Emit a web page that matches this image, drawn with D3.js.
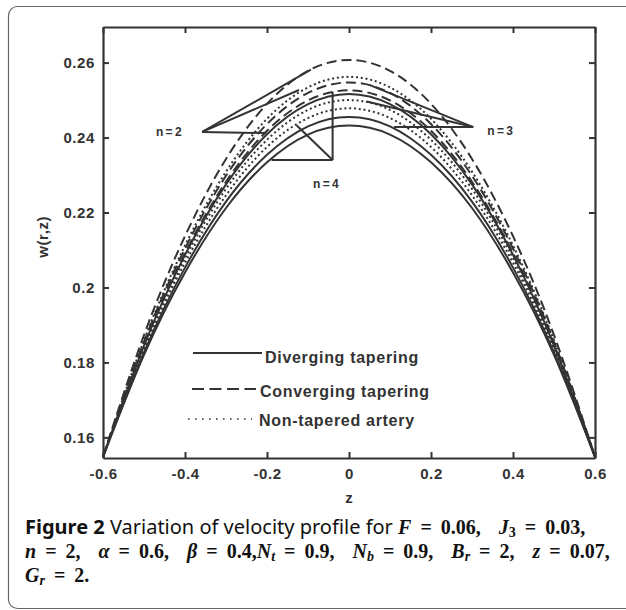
<!DOCTYPE html>
<html>
<head>
<meta charset="utf-8">
<script src="https://cdn.jsdelivr.net/npm/d3@7/dist/d3.min.js"></script>
<style>
  html, body { margin: 0; padding: 0; background: #fff; }
  svg { display: block; }
  .tick text { font-family: "Liberation Sans", Arial, sans-serif; font-weight: bold; font-size: 15px; fill: #333; letter-spacing: 0.6px; }
  .cap { fill: #111; white-space: pre; }
  .sans { font-family: "Noto Sans", "Open Sans", sans-serif; font-size: 20px; }
  .serif { font-family: "Liberation Serif", "DejaVu Serif", serif; font-weight: bold; font-size: 20px; word-spacing: 4px; }
</style>
</head>
<body>
<svg id="chart" width="626" height="610"></svg>
<script>
// axial coordinate samples
const zValues = [-0.6, -0.5, -0.4, -0.3, -0.2, -0.1, 0, 0.1, 0.2, 0.3, 0.4, 0.5, 0.6];

// velocity w(r,z) — diverging tapering
const divergingN2 = [0.1548, 0.1845, 0.2087, 0.2275, 0.2409, 0.2489, 0.2516, 0.2489, 0.2409, 0.2275, 0.2087, 0.1845, 0.1548];
const divergingN3 = [0.1548, 0.1827, 0.2053, 0.2229, 0.2354, 0.2430, 0.2455, 0.2430, 0.2354, 0.2229, 0.2053, 0.1827, 0.1548];
const divergingN4 = [0.1548, 0.1820, 0.2040, 0.2212, 0.2334, 0.2408, 0.2432, 0.2408, 0.2334, 0.2212, 0.2040, 0.1820, 0.1548];
// converging tapering
const convergingN2 = [0.1548, 0.1873, 0.2137, 0.2343, 0.2490, 0.2578, 0.2607, 0.2578, 0.2490, 0.2343, 0.2137, 0.1873, 0.1548];
const convergingN3 = [0.1548, 0.1855, 0.2104, 0.2298, 0.2436, 0.2519, 0.2547, 0.2519, 0.2436, 0.2298, 0.2104, 0.1855, 0.1548];
const convergingN4 = [0.1548, 0.1848, 0.2092, 0.2282, 0.2418, 0.2499, 0.2526, 0.2499, 0.2418, 0.2282, 0.2092, 0.1848, 0.1548];
// non-tapered artery
const nonTaperedN2 = [0.1548, 0.1859, 0.2112, 0.2309, 0.2450, 0.2534, 0.2562, 0.2534, 0.2450, 0.2309, 0.2112, 0.1859, 0.1548];
const nonTaperedN3 = [0.1548, 0.1840, 0.2078, 0.2263, 0.2394, 0.2474, 0.2500, 0.2474, 0.2394, 0.2263, 0.2078, 0.1840, 0.1548];
const nonTaperedN4 = [0.1548, 0.1834, 0.2066, 0.2246, 0.2375, 0.2452, 0.2478, 0.2452, 0.2375, 0.2246, 0.2066, 0.1834, 0.1548];

// tick labels
const xTickValues = [-0.6, -0.4, -0.2, 0, 0.2, 0.4, 0.6];
const xTickLabels = ["-0.6", "-0.4", "-0.2", "0", "0.2", "0.4", "0.6"];
const yTickValues = [0.16, 0.18, 0.2, 0.22, 0.24, 0.26];
const yTickLabels = ["0.16", "0.18", "0.2", "0.22", "0.24", "0.26"];

// legend entries
const legendNames = ["Diverging tapering", "Converging tapering", "Non-tapered artery"];

// n-labels with their leader lines (data coordinates)
const nLabels = ["n=2", "n=3", "n=4"];
const nLabelPos = [[-0.471, 0.2405], [0.337, 0.2407], [-0.088, 0.2265]];
const nVertex = [[-0.358, 0.2415], [0.303, 0.2428], [-0.040, 0.2340]];
const nTargets = [
  [[-0.093, 0.2581], [-0.122, 0.2527], [-0.202, 0.2412]],
  [[0.051, 0.2540], [0.043, 0.2496], [0.110, 0.2428]],
  [[-0.040, 0.2522], [-0.128, 0.2433], [-0.189, 0.2340]]
];

const ink = "#333";
const svg = d3.select("#chart");

// figure frame
svg.append("rect")
  .attr("x", 8.5).attr("y", 6.5).attr("width", 640).attr("height", 602)
  .attr("rx", 9).attr("fill", "none").attr("stroke", "#666").attr("stroke-width", 1.2);

const x = d3.scaleLinear().domain([-0.6, 0.6]).range([103, 595]);
const y = d3.scaleLinear().domain([0.1545, 0.2695]).range([458, 27]);

// axes with inward ticks on all four sides
const styleAxis = g => {
  g.select(".domain").attr("stroke", ink).attr("stroke-width", 2.2);
  g.selectAll(".tick line").attr("stroke", ink).attr("stroke-width", 2);
};
svg.append("g").attr("transform", `translate(0,${y.range()[0]})`)
  .call(d3.axisBottom(x).tickValues(xTickValues).tickFormat((d, i) => xTickLabels[i]).tickSizeInner(-6).tickSizeOuter(0).tickPadding(10))
  .call(styleAxis);
svg.append("g").attr("transform", `translate(0,${y.range()[1]})`)
  .call(d3.axisTop(x).tickValues(xTickValues).tickFormat("").tickSizeInner(-6).tickSizeOuter(0))
  .call(styleAxis);
svg.append("g").attr("transform", `translate(${x.range()[0]},0)`)
  .call(d3.axisLeft(y).tickValues(yTickValues).tickFormat((d, i) => yTickLabels[i]).tickSizeInner(-6).tickSizeOuter(0).tickPadding(8))
  .call(styleAxis);
svg.append("g").attr("transform", `translate(${x.range()[1]},0)`)
  .call(d3.axisRight(y).tickValues(yTickValues).tickFormat("").tickSizeInner(-6).tickSizeOuter(0))
  .call(styleAxis);
svg.selectAll(".tick text").attr("fill", ink);

// axis titles
const axisFont = "'Liberation Sans', Arial, sans-serif";
svg.append("text").attr("x", x(0)).attr("y", 503).attr("text-anchor", "middle")
  .attr("font-family", axisFont).attr("font-weight", "bold").attr("font-size", 15).attr("fill", ink)
  .text("z");
svg.append("text").attr("transform", `translate(48,${y(0.2135)}) rotate(-90)`).attr("text-anchor", "middle")
  .attr("font-family", axisFont).attr("font-weight", "bold").attr("font-size", 15).attr("fill", ink)
  .attr("letter-spacing", 0.6).text("w(r,z)");

// velocity curves
const line = d3.line().x((d, i) => x(zValues[i])).y(d => y(d)).curve(d3.curveNatural);
const series = [
  { values: convergingN2, dash: "10,5" },
  { values: convergingN3, dash: "10,5" },
  { values: convergingN4, dash: "10,5" },
  { values: nonTaperedN2, dash: "2,2.8" },
  { values: nonTaperedN3, dash: "2,2.8" },
  { values: nonTaperedN4, dash: "2,2.8" },
  { values: divergingN2, dash: null },
  { values: divergingN3, dash: null },
  { values: divergingN4, dash: null }
];
svg.append("g").selectAll("path").data(series).join("path")
  .attr("d", d => line(d.values))
  .attr("fill", "none").attr("stroke", ink).attr("stroke-width", 2)
  .attr("stroke-dasharray", d => d.dash);

// n labels and leader lines
const ann = svg.append("g");
nLabels.forEach((lab, k) => {
  nTargets[k].forEach(t => {
    ann.append("line")
      .attr("x1", x(nVertex[k][0])).attr("y1", y(nVertex[k][1]))
      .attr("x2", x(t[0])).attr("y2", y(t[1]))
      .attr("stroke", ink).attr("stroke-width", 2);
  });
  ann.append("text").attr("x", x(nLabelPos[k][0])).attr("y", y(nLabelPos[k][1]))
    .attr("font-family", axisFont).attr("font-weight", "bold").attr("font-size", 12)
    .attr("letter-spacing", 2.4).attr("fill", ink).text(lab);
});

// legend
const legendRows = [
  { x1: 193, x2: 262, ly: 353, tx: 265, ty: 363, dash: null, w: 2 },
  { x1: 192, x2: 256, ly: 389, tx: 260, ty: 397, dash: "12,5.5", w: 2 },
  { x1: 188, x2: 252, ly: 419, tx: 259, ty: 426, dash: "1.6,5.4", w: 1.6 }
];
const leg = svg.append("g");
legendRows.forEach((r, i) => {
  leg.append("line").attr("x1", r.x1).attr("x2", r.x2).attr("y1", r.ly).attr("y2", r.ly)
    .attr("stroke", ink).attr("stroke-width", r.w).attr("stroke-dasharray", r.dash);
  leg.append("text").attr("x", r.tx).attr("y", r.ty)
    .attr("font-family", axisFont).attr("font-weight", "bold").attr("font-size", 16)
    .attr("letter-spacing", 0.7).attr("fill", ink).text(legendNames[i]);
});

// caption
const caption = [
  [["Figure 2", "sans", "bold"], [" Variation of velocity profile for ", "sans"], ["F", "serif", "it"], [" = 0.06,  ", "serif"], ["J", "serif", "it"], ["3", "serif", "sub"], [" = 0.03,", "serif"]],
  [["n", "serif", "it"], [" = 2,  ", "serif"], ["α", "serif", "it"], [" = 0.6,  ", "serif"], ["β", "serif", "it"], [" = 0.4,", "serif"], ["N", "serif", "it"], ["t", "serif", "subit"], [" = 0.9,  ", "serif"], ["N", "serif", "it"], ["b", "serif", "subit"], [" = 0.9,  ", "serif"], ["B", "serif", "it"], ["r", "serif", "subit"], [" = 2,  ", "serif"], ["z", "serif", "it"], [" = 0.07,", "serif"]],
  [["G", "serif", "it"], ["r", "serif", "subit"], [" = 2.", "serif"]]
];
const capBase = [534, 558, 582];
caption.forEach((parts, li) => {
  const t = svg.append("text").attr("class", "cap").attr("x", 25).attr("y", capBase[li]);
  let shifted = false;
  parts.forEach(([s, fam, sty]) => {
    const sp = t.append("tspan").attr("class", fam).text(s);
    if (sty === "bold") sp.attr("font-weight", "bold");
    if (sty === "it" || sty === "subit") sp.attr("font-style", "italic");
    if (sty === "sub" || sty === "subit") {
      sp.style("font-size", "14px").attr("dy", 3); shifted = true;
    } else if (shifted) {
      sp.attr("dy", -3); shifted = false;
    }
  });
});
</script>
</body>
</html>
